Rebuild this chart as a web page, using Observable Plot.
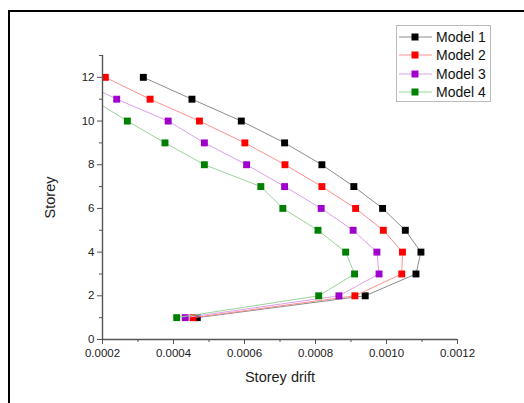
<!DOCTYPE html>
<html>
<head>
<meta charset="utf-8">
<script src="https://cdn.jsdelivr.net/npm/d3@7"></script>
<script src="https://cdn.jsdelivr.net/npm/@observablehq/plot@0.6"></script>
<style>
  html, body { margin: 0; padding: 0; background: #fff; }
  body { width: 524px; height: 403px; overflow: hidden; position: relative; font-family: "Liberation Sans", Arial, sans-serif; }
  #frame { position: absolute; left: 8px; top: 10px; width: 530px; height: 410px; border-left: 2px solid #000; border-top: 2px solid #000; pointer-events: none; }
  #legend { position: absolute; left: 396px; top: 25px; width: 93px; height: 75px; border: 1px solid #bbb; background: #fff; }
  #legend .row { position: absolute; left: 0; height: 18px; width: 93px; }
  #legend svg { position: absolute; left: 1px; top: 0; }
  #legend span { position: absolute; left: 39px; top: 0px; font-size: 14px; line-height: 18px; color: #111; }
</style>
</head>
<body>
<div id="chart"></div>
<div id="frame"></div>
<div id="legend"></div>
<script>
const models = ["Model 1", "Model 2", "Model 3", "Model 4"];
const storeys = [1, 2, 3, 4, 5, 6, 7, 8, 9, 10, 11, 12];
const model1 = [0.000467, 0.000940, 0.001083, 0.001097, 0.001053, 0.000989, 0.000908, 0.000818, 0.000713, 0.000591, 0.000452, 0.000315];
const model2 = [0.000455, 0.000911, 0.001043, 0.001045, 0.000991, 0.000913, 0.000818, 0.000714, 0.000601, 0.000473, 0.000334, 0.000208];
const model3 = [0.000433, 0.000866, 0.000979, 0.000973, 0.000906, 0.000816, 0.000713, 0.000606, 0.000487, 0.000385, 0.000240, 0.000115];
const model4 = [0.000409, 0.000809, 0.000910, 0.000885, 0.000807, 0.000708, 0.000646, 0.000487, 0.000376, 0.000270, 0.000170, 0.000060];
const series = [model1, model2, model3, model4];
const markerColors = ["#000000", "#ff0000", "#a000cc", "#008000"];
const lineColors = ["#8c8c8c", "#ff9090", "#dca0ec", "#9ad49a"];
const xMajor = [0.0002, 0.0004, 0.0006, 0.0008, 0.0010, 0.0012];
const xMinor = [0.0003, 0.0005, 0.0007, 0.0009, 0.0011];
const yMajor = [0, 2, 4, 6, 8, 10, 12];
const yMinor = [1, 3, 5, 7, 9, 11, 13];

const rows = [];
models.forEach((m, i) => storeys.forEach((s, j) => rows.push({model: m, idx: i, storey: s, drift: series[i][j]})));

const axisColor = "#555";
const marks = [];
models.forEach((m, i) => {
  const d = rows.filter(r => r.model === m);
  marks.push(Plot.line(d, {x: "drift", y: "storey", stroke: lineColors[i], strokeWidth: 1, clip: true}));
  marks.push(Plot.dot(d, {x: "drift", y: "storey", symbol: "square", r: 3.9, fill: markerColors[i], stroke: "none", clip: true}));
});

const chart = Plot.plot({
  width: 524,
  height: 403,
  marginLeft: 102,
  marginRight: 67,
  marginTop: 55,
  marginBottom: 64,
  style: {fontFamily: "'Liberation Sans', Arial, sans-serif", background: "#fff", color: "#222"},
  x: {domain: [0.0002, 0.0012]},
  y: {domain: [0, 13]},
  marks: [
    ...marks,
    Plot.ruleX([0.0002], {stroke: axisColor, strokeWidth: 1.4}),
    Plot.ruleY([0], {stroke: axisColor, strokeWidth: 1.4}),
    Plot.axisY(yMajor, {tickSize: 5, tickPadding: 3, fontSize: 11.5, stroke: axisColor, label: null}),
    Plot.axisY(yMinor, {tickSize: 3, tickFormat: () => "", stroke: axisColor, label: null}),
    Plot.axisX(xMajor, {tickSize: 5, tickPadding: 4, fontSize: 11.5, stroke: axisColor, tickFormat: d3.format(".4f"), label: null}),
    Plot.axisX(xMinor, {tickSize: 3, tickFormat: () => "", stroke: axisColor, label: null}),
    Plot.axisX([], {label: "Storey drift", labelAnchor: "center", labelArrow: "none", labelOffset: 42, fontSize: 14.5, tickSize: 0}),
    Plot.axisY([], {label: "Storey", labelAnchor: "center", labelArrow: "none", labelOffset: 58, fontSize: 14.5, tickSize: 0})
  ]
});
document.getElementById("chart").appendChild(chart);

const legend = document.getElementById("legend");
models.forEach((m, i) => {
  const row = document.createElement("div");
  row.className = "row";
  row.style.top = (2 + i * 18.3) + "px";
  row.innerHTML = `<svg width="36" height="18"><line x1="1" x2="34" y1="9" y2="9" stroke="${lineColors[i]}" stroke-width="1"/><rect x="13.5" y="5.5" width="7" height="7" fill="${markerColors[i]}"/></svg><span>${m}</span>`;
  legend.appendChild(row);
});
</script>
</body>
</html>
